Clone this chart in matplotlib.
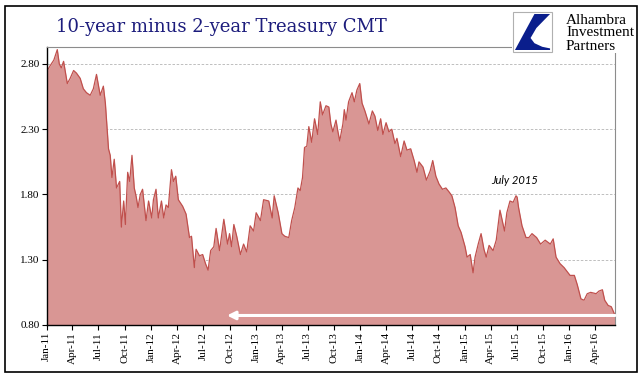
import matplotlib.pyplot as plt
import matplotlib.dates as mdates
from matplotlib.patches import Rectangle, Polygon
import pandas as pd

# 10y - 2y spread
fechas = [
    "2011-01-03", "2011-01-14", "2011-01-26", "2011-02-07", "2011-02-14", "2011-02-21", "2011-03-01",
    "2011-03-14", "2011-03-24", "2011-04-05", "2011-04-15", "2011-04-28", "2011-05-09", "2011-05-20",
    "2011-06-02", "2011-06-13", "2011-06-24", "2011-07-07", "2011-07-18", "2011-07-25", "2011-08-05",
    "2011-08-11", "2011-08-17", "2011-08-25", "2011-09-02", "2011-09-13", "2011-09-19", "2011-09-27",
    "2011-10-03", "2011-10-11", "2011-10-18", "2011-10-26", "2011-11-03", "2011-11-10", "2011-11-16",
    "2011-11-24", "2011-12-02", "2011-12-14", "2011-12-23", "2012-01-03", "2012-01-09", "2012-01-18",
    "2012-01-26", "2012-02-06", "2012-02-14", "2012-02-22", "2012-03-01", "2012-03-12", "2012-03-19",
    "2012-03-27", "2012-04-05", "2012-04-20", "2012-05-02", "2012-05-14", "2012-05-21", "2012-05-31",
    "2012-06-06", "2012-06-18", "2012-06-29", "2012-07-09", "2012-07-18", "2012-07-27", "2012-08-07",
    "2012-08-15", "2012-08-27", "2012-09-11", "2012-09-24", "2012-10-01", "2012-10-08", "2012-10-16",
    "2012-10-26", "2012-11-08", "2012-11-19", "2012-11-30", "2012-12-12", "2012-12-24", "2013-01-02",
    "2013-01-17", "2013-01-28", "2013-02-15", "2013-02-27", "2013-03-06", "2013-03-20", "2013-04-02",
    "2013-04-12", "2013-04-26", "2013-05-06", "2013-05-17", "2013-05-28", "2013-06-05", "2013-06-13",
    "2013-06-20", "2013-06-28", "2013-07-05", "2013-07-15", "2013-07-25", "2013-08-05", "2013-08-14",
    "2013-08-22", "2013-09-03", "2013-09-13", "2013-09-20", "2013-09-27", "2013-10-08", "2013-10-14",
    "2013-10-21", "2013-11-01", "2013-11-06", "2013-11-12", "2013-11-21", "2013-12-03", "2013-12-11",
    "2013-12-20", "2013-12-30", "2014-01-07", "2014-01-17", "2014-01-31", "2014-02-12", "2014-02-21",
    "2014-03-03", "2014-03-13", "2014-03-21", "2014-04-01", "2014-04-11", "2014-04-21", "2014-05-02",
    "2014-05-09", "2014-05-22", "2014-06-03", "2014-06-13", "2014-06-26", "2014-07-08", "2014-07-18",
    "2014-07-25", "2014-08-08", "2014-08-20", "2014-09-02", "2014-09-11", "2014-09-22", "2014-10-03",
    "2014-10-15", "2014-10-27", "2014-11-07", "2014-11-17", "2014-11-28", "2014-12-09", "2014-12-19",
    "2015-01-02", "2015-01-09", "2015-01-20", "2015-01-30", "2015-02-06", "2015-02-17", "2015-02-27",
    "2015-03-09", "2015-03-17", "2015-03-27", "2015-04-10", "2015-04-21", "2015-05-04", "2015-05-12",
    "2015-05-20", "2015-05-28", "2015-06-08", "2015-06-19", "2015-06-29", "2015-07-03", "2015-07-08",
    "2015-07-20", "2015-08-03", "2015-08-13", "2015-08-24", "2015-09-09", "2015-09-23", "2015-10-09",
    "2015-10-27", "2015-11-06", "2015-11-16", "2015-11-30", "2015-12-14", "2016-01-04", "2016-01-19",
    "2016-01-29", "2016-02-11", "2016-02-22", "2016-03-04", "2016-03-16", "2016-04-04", "2016-04-14",
    "2016-04-26", "2016-05-04", "2016-05-16", "2016-05-27", "2016-06-06", "2016-06-09",
]
spread = [
    2.75, 2.79, 2.83, 2.91, 2.80, 2.77, 2.82,
    2.65, 2.69, 2.75, 2.73, 2.69, 2.61, 2.58,
    2.56, 2.61, 2.72, 2.56, 2.63, 2.50, 2.15,
    2.10, 1.93, 2.07, 1.85, 1.90, 1.55, 1.75,
    1.57, 1.97, 1.90, 2.10, 1.85, 1.78, 1.70,
    1.80, 1.84, 1.60, 1.75, 1.62, 1.76, 1.84,
    1.62, 1.75, 1.62, 1.72, 1.70, 1.99, 1.90,
    1.94, 1.76, 1.71, 1.65, 1.47, 1.48, 1.24,
    1.38, 1.33, 1.34, 1.27, 1.22, 1.37, 1.40,
    1.54, 1.37, 1.61, 1.42, 1.50, 1.40, 1.57,
    1.48, 1.34, 1.42, 1.36, 1.56, 1.52, 1.66,
    1.60, 1.76, 1.75, 1.62, 1.79, 1.66, 1.50,
    1.48, 1.47, 1.60, 1.70, 1.85, 1.83, 1.93,
    2.16, 2.17, 2.32, 2.20, 2.38, 2.26, 2.51,
    2.41, 2.48, 2.47, 2.34, 2.28, 2.37, 2.29,
    2.21, 2.34, 2.45, 2.37, 2.51, 2.58, 2.51,
    2.60, 2.65, 2.50, 2.44, 2.34, 2.44, 2.40,
    2.29, 2.38, 2.26, 2.35, 2.28, 2.30, 2.19,
    2.23, 2.09, 2.21, 2.14, 2.15, 2.06, 1.97,
    2.05, 2.01, 1.91, 1.98, 2.06, 1.94, 1.88,
    1.84, 1.85, 1.82, 1.79, 1.70, 1.56, 1.51,
    1.40, 1.32, 1.34, 1.20, 1.32, 1.42, 1.50,
    1.38, 1.32, 1.41, 1.37, 1.45, 1.68, 1.60,
    1.52, 1.66, 1.75, 1.74, 1.79, 1.78, 1.70,
    1.56, 1.47, 1.47, 1.50, 1.47, 1.42, 1.45,
    1.42, 1.46, 1.32, 1.27, 1.24, 1.18, 1.18,
    1.11, 1.00, 0.99, 1.04, 1.05, 1.04, 1.06,
    1.07, 0.99, 0.95, 0.94, 0.89, 0.87,
]
yticks = [0.80, 1.30, 1.80, 2.30, 2.80]

x = pd.to_datetime(fechas)

fig = plt.figure(figsize=(6.44, 3.81), dpi=100)
ax = fig.add_axes([46.7/644, 1 - 325/381, (615 - 46.7)/644, (325 - 47)/381])

ax.fill_between(x, 0.8, spread, color='#D99694', lw=0)
ax.plot(x, spread, color='#C0504D', lw=0.9)

ax.set_ylim(0.8, 2.93)
ax.set_xlim(pd.Timestamp("2011-01-01"), x[-1])
ax.set_yticks(yticks)
ax.set_yticklabels(["%.2f" % v for v in yticks], fontsize=8, family='Liberation Serif')
ax.xaxis.set_major_locator(mdates.MonthLocator(bymonth=[1, 4, 7, 10]))
ax.xaxis.set_major_formatter(mdates.DateFormatter('%b-%y'))
for lab in ax.get_xticklabels():
    lab.set_rotation(90)
    lab.set_fontsize(8)
    lab.set_family('Liberation Serif')
ax.tick_params(axis='both', direction='out', length=3.5, width=0.8, pad=1.5, colors='black')

ax.grid(axis='y', color='#B4B4B4', ls='--', lw=0.6, dashes=(3, 2))
ax.set_axisbelow(True)
for s in ['left', 'bottom']:
    ax.spines[s].set_color('black')
    ax.spines[s].set_linewidth(1.0)
for s in ['top', 'right']:
    ax.spines[s].set_color('#8C8C8C')
    ax.spines[s].set_linewidth(0.8)

# flecha blanca
ax.annotate('', xy=(pd.Timestamp("2012-09-22"), 0.873), xytext=(x[-1], 0.873),
            arrowprops=dict(arrowstyle='-|>', color='white', lw=2.2, mutation_scale=12,
                            shrinkA=0, shrinkB=0))
ax.text(pd.Timestamp("2015-06-25"), 1.865, 'July 2015', ha='center', va='bottom',
        fontsize=8, style='italic', family='Lato')

# titulo
fig.text(56/644, 1 - 27/381, '10-year minus 2-year Treasury CMT', ha='left', va='center',
         fontsize=13, family='DejaVu Serif', color='#1C1C7C')

# logo
fig.patches.append(Rectangle((512/644, 1 - 53/381), 123/644, 45/381, transform=fig.transFigure,
                             facecolor='white', edgecolor='none', zorder=5))
bx, by, bw, bh = 513/644, 1 - 52/381, 39/644, 40/381
fig.patches.append(Rectangle((bx, by), bw, bh, transform=fig.transFigure,
                             facecolor='white', edgecolor='#B0B0B0', lw=0.8, zorder=6))
forma = [(0.55, 0.95), (0.95, 0.95), (0.6, 0.6), (0.45, 0.35), (0.55, 0.22), (0.75, 0.13),
         (0.95, 0.09), (0.95, 0.05), (0.05, 0.05)]
fig.patches.append(Polygon([(bx + px*bw, by + py*bh) for px, py in forma], closed=True,
                           transform=fig.transFigure, facecolor='#0A1E8C', edgecolor='none', zorder=7))
for i, t in enumerate(['Alhambra', 'Investment', 'Partners']):
    fig.text(566/644, 1 - (20 + 13*i)/381, t, ha='left', va='center', fontsize=11,
             family='Liberation Serif', color='black', zorder=8)

# marco exterior
fig.patches.append(Rectangle((5/644, 1 - 372/381), 632/644, 366/381, transform=fig.transFigure,
                             facecolor='none', edgecolor='black', lw=1.2, zorder=10))

plt.savefig('out.png', dpi=100)
